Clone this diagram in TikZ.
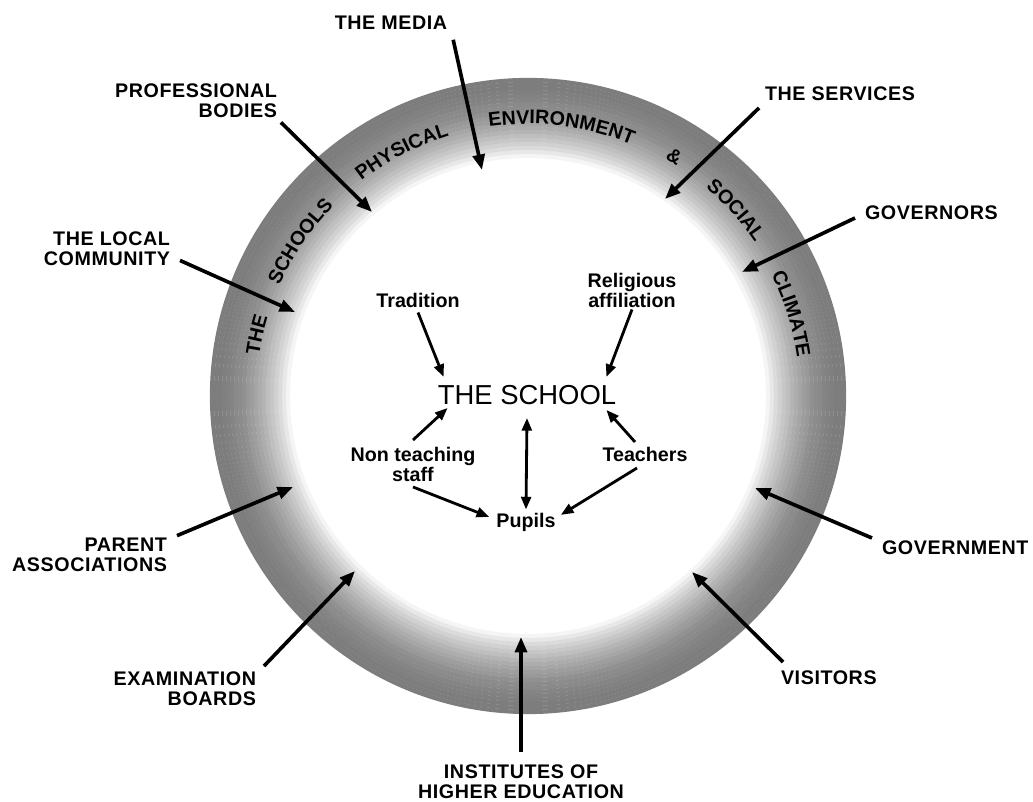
\documentclass[tikz,border=0pt]{standalone}
\usepackage{fontspec}
\setmainfont{Liberation Sans}
\newfontfamily\spacedfont{Liberation Sans}[LetterSpace=3]
\newfontfamily\arcfont{Liberation Sans}[LetterSpace=12]
\usetikzlibrary{arrows.meta, calc, decorations.text}
\newcommand\arcstyle{\arcfont\bfseries\fontsize{14}{14.5}\selectfont}

\begin{document}
\begin{tikzpicture}[
        x=0.025cm, y=0.025cm,
        outside/.style={
            font=\spacedfont\bfseries\fontsize{14}{14.2}\selectfont,
            inner sep=0pt,
            outer sep=0pt
        },
        inside/.style={
            font=\bfseries\fontsize{14}{14.2}\selectfont,
            inner sep=0pt,
            align=center
        },
        influence/.style={
            -{Triangle[length=11pt, width=8.5pt]},
            line width=2.6pt
        },
        bond/.style={
            -{Triangle[length=9pt, width=7pt]},
            line width=2pt
        },
        mutual/.style={
            {Triangle[length=9pt, width=7pt]}-{Triangle[length=9pt, width=7pt]},
            line width=2pt
        },
        ringword/.style={
            decorate,
            decoration={
                text along path,
                text align=center,
                text={|\arcstyle|#1}
            }
        }
    ]

        \useasboundingbox (0,0) rectangle (1033,802);

        % ---------------------------------------------------------------------
        % Shaded ring: the school's physical environment and social climate
        % ---------------------------------------------------------------------

        \coordinate (hub) at (528,406);

        % Grey deepens from the inner edge to the outer edge.
        \foreach \r in {240,244,...,316} {
            \pgfmathtruncatemacro\tone{52*(1-(1-(\r-236)/82)^2)}
            \draw[black!\tone, line width=3pt] (hub) circle[radius=\r];
        }

        \path[ringword=THE]
            (hub) ++(167.2+22:272) arc[start angle=167.2+22, end angle=167.2-22, radius=272];
        \path[ringword=SCHOOLS]
            (hub) ++(145.8+22:272) arc[start angle=145.8+22, end angle=145.8-22, radius=272];
        \path[ringword=PHYSICAL]
            (hub) ++(117.3+22:272) arc[start angle=117.3+22, end angle=117.3-22, radius=272];
        \path[ringword=ENVIRONMENT]
            (hub) ++(82.9+25:272) arc[start angle=82.9+25, end angle=82.9-25, radius=272];
        \path[ringword=SOCIAL]
            (hub) ++(41.8+22:274) arc[start angle=41.8+22, end angle=41.8-22, radius=274];
        \path[ringword=CLIMATE]
            (hub) ++(17.3+22:272) arc[start angle=17.3+22, end angle=17.3-22, radius=272];

        \node[
            font=\arcstyle,
            inner sep=0pt,
            rotate=-31.4
        ] (ampersand) at ($(hub)+(58.6:281)$) {\&};


        % ---------------------------------------------------------------------
        % Outside influences
        % ---------------------------------------------------------------------

        \node[outside] (media) at (391,779) {THE MEDIA};

        \node[
            outside,
            anchor=east,
            align=right
        ] (professional) at (277,701.5) {PROFESSIONAL\\BODIES};

        \node[
            outside,
            anchor=west
        ] (services) at (765,708) {THE SERVICES};

        \node[
            outside,
            anchor=west
        ] (governors) at (865,589) {GOVERNORS};

        \node[
            outside,
            anchor=east,
            align=right
        ] (community) at (170,553.5) {THE LOCAL\\COMMUNITY};

        \node[
            outside,
            anchor=east,
            align=right
        ] (parents) at (167,247.5) {PARENT\\ASSOCIATIONS};

        \node[
            outside,
            anchor=west
        ] (government) at (882,254) {GOVERNMENT};

        \node[
            outside,
            anchor=east,
            align=right
        ] (examination) at (256,113) {EXAMINATION\\BOARDS};

        \node[
            outside,
            anchor=west
        ] (visitors) at (781,124) {VISITORS};

        \node[
            outside,
            align=center
        ] (institutes) at (521,20) {INSTITUTES OF\\HIGHER EDUCATION};

        % Arrow heads stop just inside the ring.
        \coordinate (mediatip) at (482,632);
        \coordinate (professionaltip) at (372,590);
        \coordinate (servicestip) at (665,603);
        \coordinate (governorstip) at (742,530);
        \coordinate (communitytip) at (295,490);
        \coordinate (parentstip) at (293,315);
        \coordinate (governmenttip) at (755,314);
        \coordinate (examinationtip) at (355,231);
        \coordinate (visitorstip) at (692,230);
        \coordinate (institutestip) at (521,165);

        \draw[influence]
            ([shift={(6,-10)}]media.south east) -- (mediatip);

        \draw[influence]
            ([shift={(4,-5)}]professional.south east) -- (professionaltip);

        \draw[influence]
            ([shift={(-6,-7)}]services.south west) -- (servicestip);

        \draw[influence]
            ([shift={(-10,-5)}]governors.west) -- (governorstip);

        \draw[influence]
            ([shift={(10,5)}]community.south east) -- (communitytip);

        \draw[influence]
            ([shift={(10,2)}]parents.north east) -- (parentstip);

        \draw[influence]
            ([shift={(-10,3)}]government.north west) -- (governmenttip);

        \draw[influence]
            ([shift={(8,6)}]examination.north east) -- (examinationtip);

        \draw[influence]
            ([shift={(2,9)}]visitors.north west) -- (visitorstip);

        \draw[influence]
            ([shift={(0,13)}]institutes.north) -- (institutestip);


        % ---------------------------------------------------------------------
        % The school and its own members
        % ---------------------------------------------------------------------

        \node[
            font=\fontsize{19.5}{20}\selectfont,
            inner sep=0pt
        ] (school) at (527,407) {THE SCHOOL};

        \node[inside] (tradition) at (418,502) {Tradition};

        \node[inside] (religious) at (632,512) {Religious\\affiliation};

        \node[inside] (nonteaching) at (413,337.5) {Non teaching\\staff};

        \node[inside] (teachers) at (645,347.5) {Teachers};

        \node[
            inside,
            anchor=base
        ] (pupils) at (526,274) {Pupils};

        \draw[bond]
            ([shift={(0,-5)}]tradition.south) -- ([shift={(6,8)}]school.north west);

        \draw[bond]
            ([shift={(0,-2)}]religious.south) -- ([shift={(-10,8)}]school.north east);

        \draw[bond]
            ([shift={(0,7)}]nonteaching.north) -- ([shift={(10,-3)}]school.south west);

        \draw[bond]
            ([shift={(-10,5)}]teachers.north) -- ([shift={(-10,-5)}]school.south east);

        \draw[mutual]
            ([shift={(0,-13)}]school.south) -- ([shift={(0,4)}]pupils.north);

        \draw[bond]
            ([shift={(0,-5)}]nonteaching.south) -- ([shift={(-7,6)}]pupils.west);

        \draw[bond]
            ([shift={(-8,-6)}]teachers.south) -- ([shift={(5,8)}]pupils.east);

    \end{tikzpicture}
\end{document}
